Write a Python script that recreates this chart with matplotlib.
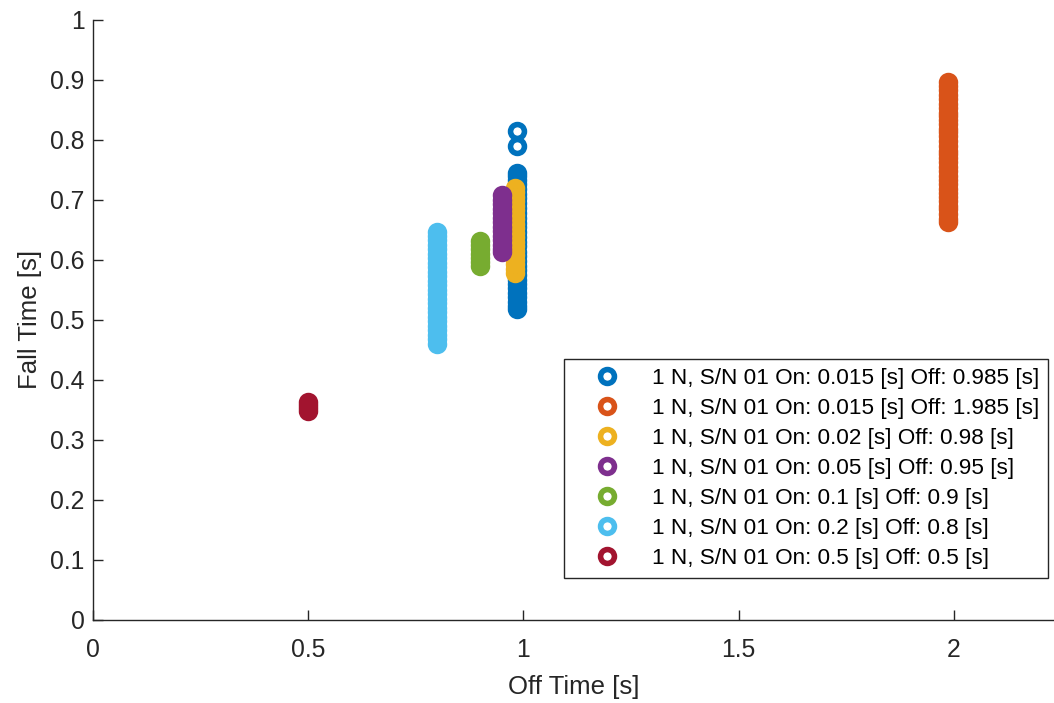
import matplotlib
matplotlib.use("Agg")
import matplotlib.pyplot as plt

plt.rcParams['font.family'] = ['Liberation Sans', 'DejaVu Sans']

labels = [
    "1 N, S/N 01 On: 0.015 [s] Off: 0.985 [s]",
    "1 N, S/N 01 On: 0.015 [s] Off: 1.985 [s]",
    "1 N, S/N 01 On: 0.02 [s] Off: 0.98 [s]",
    "1 N, S/N 01 On: 0.05 [s] Off: 0.95 [s]",
    "1 N, S/N 01 On: 0.1 [s] Off: 0.9 [s]",
    "1 N, S/N 01 On: 0.2 [s] Off: 0.8 [s]",
    "1 N, S/N 01 On: 0.5 [s] Off: 0.5 [s]",
]
off_times = [0.985, 1.985, 0.98, 0.95, 0.9, 0.8, 0.5]
colors = ['#0072BD', '#D95319', '#EDB120', '#7E2F8E', '#77AC30', '#4DBEEE', '#A2142F']

fall_blue = [0.517, 0.522, 0.529, 0.537, 0.545, 0.552, 0.559, 0.566, 0.574, 0.582,
             0.590, 0.597, 0.606, 0.613, 0.622, 0.630, 0.637, 0.646, 0.654, 0.661,
             0.670, 0.678, 0.685, 0.694, 0.702, 0.709, 0.718, 0.726, 0.733, 0.740,
             0.745, 0.790, 0.815]
fall_orange = [0.662, 0.668, 0.676, 0.684, 0.690, 0.697, 0.705, 0.711, 0.718, 0.726,
               0.733, 0.740, 0.748, 0.754, 0.762, 0.770, 0.776, 0.781, 0.790, 0.797,
               0.805, 0.812, 0.818, 0.826, 0.833, 0.840, 0.845, 0.852, 0.860, 0.868,
               0.875, 0.882, 0.889, 0.896]
fall_yellow = [0.578, 0.584, 0.592, 0.600, 0.607, 0.615, 0.622, 0.630, 0.637, 0.645,
               0.652, 0.660, 0.667, 0.675, 0.682, 0.690, 0.697, 0.705, 0.712, 0.720]
fall_purple = [0.612, 0.618, 0.625, 0.632, 0.640, 0.647, 0.655, 0.662, 0.670, 0.677,
               0.684, 0.692, 0.699, 0.708]
fall_green = [0.590, 0.596, 0.603, 0.610, 0.617, 0.624, 0.631]
fall_lightblue = [0.460, 0.467, 0.474, 0.482, 0.489, 0.497, 0.504, 0.512, 0.519, 0.527,
                  0.534, 0.542, 0.549, 0.557, 0.564, 0.572, 0.579, 0.587, 0.594, 0.602,
                  0.609, 0.617, 0.624, 0.632, 0.639, 0.646]
fall_red = [0.348, 0.353, 0.357, 0.362]

fall_series = [fall_blue, fall_orange, fall_yellow, fall_purple,
               fall_green, fall_lightblue, fall_red]

xticks = [0, 0.5, 1, 1.5, 2]
xticklabels = ['0', '0.5', '1', '1.5', '2']
yticks = [0, 0.1, 0.2, 0.3, 0.4, 0.5, 0.6, 0.7, 0.8, 0.9, 1.0]
yticklabels = ['0', '0.1', '0.2', '0.3', '0.4', '0.5', '0.6', '0.7', '0.8', '0.9', '1']

fig = plt.figure(figsize=(10.54, 7.03), dpi=100)
ax = fig.add_axes([93 / 1054, (703 - 619.5) / 703, 961 / 1054, 600 / 703])

for xo, ys, c, lab in zip(off_times, fall_series, colors, labels):
    ax.plot([xo] * len(ys), ys, linestyle='none', marker='o', mfc='none',
            mec=c, ms=10, mew=4.0, label=lab)

ax.set_xlim(0, 2.2323)
ax.set_ylim(0, 1)
ax.set_xticks(xticks)
ax.set_xticklabels(xticklabels)
ax.set_yticks(yticks)
ax.set_yticklabels(yticklabels)

dark = '#262626'
for s in ['top', 'right']:
    ax.spines[s].set_visible(False)
for s in ['left', 'bottom']:
    ax.spines[s].set_color(dark)
    ax.spines[s].set_linewidth(1.0)
ax.tick_params(direction='in', length=7, width=1, colors=dark, labelsize=17.8)
ax.tick_params(axis='y', pad=6)
ax.tick_params(axis='x', pad=13)

ax.set_xlabel('Off Time [s]', fontsize=18.5, color=dark, labelpad=10)
ax.set_ylabel('Fall Time [s]', fontsize=18.5, color=dark, labelpad=6)

leg = ax.legend(loc='lower right', bbox_to_anchor=(0.994, 0.069), fontsize=16.2,
                frameon=True, fancybox=False, edgecolor='#262626', framealpha=1,
                borderpad=0.4, labelspacing=0.4, handlelength=3.0, handletextpad=0.5,
                borderaxespad=0)
leg.get_frame().set_linewidth(1.0)

fig.savefig('out.png', dpi=100)
